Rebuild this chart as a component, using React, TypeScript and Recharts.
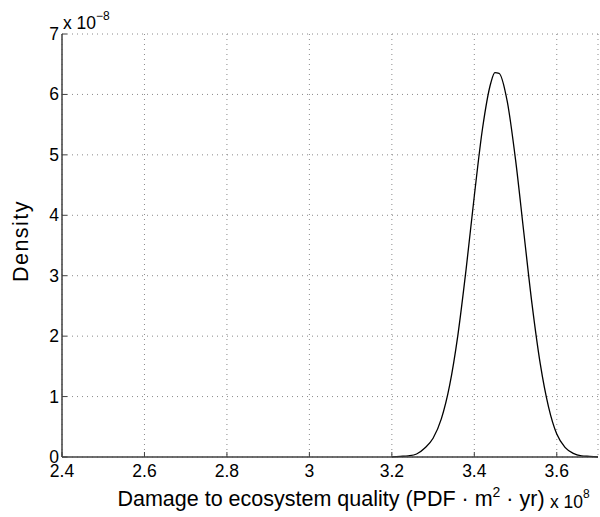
import { CartesianGrid, Label, Line, LineChart, XAxis, YAxis } from "recharts"

// damage (x 10^8) and density (x 10^-8)
const damage = [
  3.2, 3.22, 3.24, 3.26, 3.28, 3.3, 3.32, 3.34, 3.36, 3.38, 3.4, 3.42, 3.44, 3.45, 3.46, 3.48, 3.5,
  3.52, 3.54, 3.56, 3.58, 3.6, 3.62, 3.64, 3.66, 3.68, 3.7,
]
const density = [
  0.0, 0.01, 0.02, 0.05, 0.15, 0.31, 0.63, 1.18, 2.01, 3.1, 4.32, 5.44, 6.19, 6.36, 6.35, 5.88, 4.92,
  3.72, 2.53, 1.54, 0.83, 0.38, 0.16, 0.06, 0.02, 0.01, 0.0,
]
const xTicks = [2.4, 2.6, 2.8, 3, 3.2, 3.4, 3.6]
const yTicks = [0, 1, 2, 3, 4, 5, 6, 7]

const data = damage.map((x, i) => ({ x, y: density[i] }))

const font = "'Liberation Sans', Arial, Helvetica, sans-serif"
const axisColor = "#404040"

const XTick = (props: any) => {
  const { x, y, payload } = props
  return (
    <g>
      <line x1={x} y1={y} x2={x} y2={y - 5} stroke={axisColor} strokeWidth={1} />
      <text x={x} y={y + 20} textAnchor="middle" fontSize={17.5} fontFamily={font} fill="#000">
        {payload.value}
      </text>
    </g>
  )
}

const YTick = (props: any) => {
  const { x, y, payload } = props
  return (
    <g>
      <line x1={x} y1={y} x2={x + 5} y2={y} stroke={axisColor} strokeWidth={1} />
      <text x={x - 3} y={y + 6} textAnchor="end" fontSize={17.5} fontFamily={font} fill="#000">
        {payload.value}
      </text>
    </g>
  )
}

export default function App() {
  return (
    <div style={{ position: "absolute", left: 0, top: 0, width: 600, height: 517, background: "#fff" }}>
      <LineChart width={600} height={517} data={data} margin={{ top: 34, right: 2, bottom: 29, left: 0 }}>
        <CartesianGrid stroke="#8a8a8a" strokeDasharray="1 4" />
        <XAxis
          dataKey="x"
          type="number"
          domain={[2.4, 3.7]}
          ticks={xTicks}
          allowDataOverflow
          height={31}
          tickSize={0}
          tickMargin={0}
          tick={XTick}
          stroke={axisColor}
          strokeWidth={1.5}
        >
          <Label
            content={() => (
              <g fontFamily={font} fill="#000">
                <text x={331} y={506} textAnchor="middle" fontSize={21.5}>
                  Damage to ecosystem quality (PDF · m
                  <tspan dy={-9} fontSize={14}>
                    2
                  </tspan>
                  <tspan dy={9}> · yr)</tspan>
                </text>
                <text x={550} y={508} fontSize={17.5}>
                  x 10
                  <tspan dy={-10} fontSize={12}>
                    8
                  </tspan>
                </text>
              </g>
            )}
          />
        </XAxis>
        <YAxis
          type="number"
          domain={[0, 7]}
          ticks={yTicks}
          width={62}
          tickSize={0}
          tickMargin={0}
          tick={YTick}
          stroke={axisColor}
          strokeWidth={1.5}
        >
          <Label
            content={() => (
              <g fontFamily={font} fill="#000">
                <text
                  x={28}
                  y={241}
                  textAnchor="middle"
                  fontSize={21.5}
                  letterSpacing={1.5}
                  transform="rotate(-90 28 241)"
                >
                  Density
                </text>
                <text x={63} y={29} fontSize={17.5}>
                  x 10
                  <tspan dy={-9} fontSize={12}>
                    −8
                  </tspan>
                </text>
              </g>
            )}
          />
        </YAxis>
        <Line
          type="monotone"
          dataKey="y"
          stroke="#000"
          strokeWidth={1.3}
          dot={false}
          activeDot={false}
          isAnimationActive={false}
        />
      </LineChart>
    </div>
  )
}
